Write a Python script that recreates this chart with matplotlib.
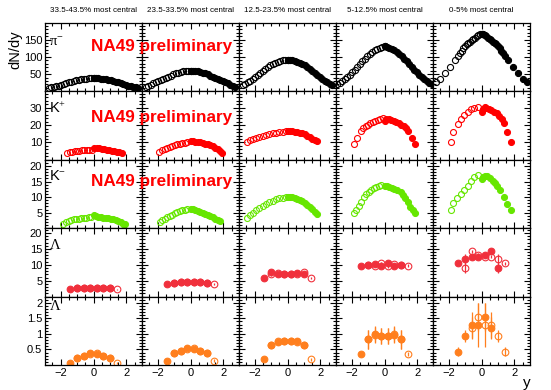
import numpy as np
import matplotlib
matplotlib.use('Agg')
import matplotlib.pyplot as plt
from matplotlib.ticker import MultipleLocator, FuncFormatter

plt.rcParams['font.family'] = ['Liberation Sans', 'DejaVu Sans']
plt.rcParams['mathtext.fontset'] = 'custom'
plt.rcParams['mathtext.rm'] = 'Liberation Serif'
plt.rcParams['mathtext.it'] = 'Liberation Serif'
plt.rcParams['mathtext.sf'] = 'Liberation Sans'

centralities = ['33.5-43.5% most central', '23.5-33.5% most central',
                '12.5-23.5% most central', '5-12.5% most central',
                '0-5% most central']

# pi- : measured (filled) points, open = reflected
r15 = [0.0, 0.15, 0.3, 0.45, 0.6, 0.75, 0.9, 1.05, 1.2, 1.35, 1.5, 1.65, 1.8,
       1.95, 2.1, 2.25, 2.4, 2.55, 2.7]
pim_y = [r15, r15, r15, r15 + [2.85],
         [0.0, 0.1, 0.2, 0.3, 0.4, 0.5, 0.6, 0.7, 0.8, 0.9, 1.0, 1.1, 1.2, 1.3,
          1.4, 1.58, 1.88, 2.19, 2.49, 2.76]]
pim_v = [
    [38, 38, 37.5, 37, 36, 35, 33.5, 32, 30.5, 28.5, 26.5, 24, 21.5, 19, 17, 15, 13, 11.5, 10],
    [60, 60, 59, 58, 56, 54, 52, 49, 46, 43, 40, 36.5, 33, 29.5, 26, 23, 19.5, 16, 13],
    [92, 91.5, 90, 88, 86, 82.5, 79, 75, 70, 65, 60, 54, 48, 42.5, 37, 31.5, 26.5, 22, 18],
    [130, 129, 127, 124, 120, 115, 109, 102, 95, 87, 79, 71, 63, 55.5, 48, 41, 35, 29.5, 25, 21],
    [165, 165, 163, 160, 156, 152, 148, 144, 140, 136, 131, 125, 118, 111, 103, 92, 72, 52, 37, 27],
]

# K+
kp_fy = [[0.05, 0.2, 0.35, 0.5, 0.65, 0.8, 0.95, 1.1, 1.25, 1.4, 1.55, 1.7],
         [0.0, 0.15, 0.3, 0.45, 0.6, 0.75, 0.9, 1.05, 1.2, 1.35, 1.5, 1.65, 1.8, 1.89],
         [0.0, 0.15, 0.3, 0.45, 0.6, 0.75, 0.9, 1.05, 1.2, 1.35, 1.5, 1.65, 1.76],
         [0.0, 0.1, 0.25, 0.4, 0.55, 0.7, 0.85, 1.0, 1.16, 1.3, 1.43, 1.67, 1.82],
         [0.0, 0.1, 0.2, 0.3, 0.47, 0.6, 0.77, 0.92, 1.08, 1.22, 1.38, 1.54, 1.79]]
kp_fv = [[6.9, 6.8, 6.6, 6.4, 6.1, 5.9, 5.6, 5.3, 5.0, 4.7, 4.3, 3.9],
         [11.0, 10.8, 10.5, 10.3, 10.0, 9.7, 9.4, 8.9, 8.4, 7.8, 7.1, 6.2, 5.1, 4.2],
         [16.5, 16.5, 16.4, 16.2, 15.9, 15.6, 15.2, 14.7, 14.0, 13.2, 12.3, 11.3, 10.6],
         [22.5, 23.8, 23.5, 23.0, 22.3, 21.6, 21.0, 20.3, 19.6, 18.5, 16.7, 12.8, 9.2],
         [27.5, 29.5, 30.5, 30.2, 29.2, 28.6, 27.8, 26.8, 25.3, 23.5, 21.0, 16.0, 10.2]]
kp_oy = [[-1.63, -1.45, -1.3, -1.15, -1.0, -0.85, -0.7, -0.55, -0.4, -0.25, -0.1],
         [-1.89, -1.7, -1.55, -1.4, -1.25, -1.1, -0.95, -0.8, -0.65, -0.5, -0.35, -0.2],
         [-2.48, -2.3, -2.1, -1.9, -1.7, -1.5, -1.3, -1.1, -0.9, -0.7, -0.5, -0.3, -0.1],
         [-1.84, -1.65, -1.45, -1.3, -1.15, -1.0, -0.85, -0.7, -0.55, -0.4, -0.25, -0.1],
         [-1.87, -1.71, -1.45, -1.24, -1.04, -0.84, -0.63, -0.43, -0.23]]
kp_ov = [[3.9, 4.3, 4.6, 4.9, 5.1, 5.3, 5.4, 5.5, 5.6, 5.7, 5.8],
         [4.3, 5.5, 6.3, 7.0, 7.6, 8.1, 8.5, 8.9, 9.3, 9.6, 9.9, 10.1],
         [10.5, 11.2, 12.0, 12.6, 13.2, 13.8, 14.4, 14.9, 15.3, 15.7, 16.0, 16.2, 16.4],
         [9.2, 12.5, 16.5, 18.3, 19.5, 20.3, 21.0, 21.7, 22.4, 23.0, 23.6, 24.2],
         [10.2, 16.0, 20.7, 23.5, 25.9, 27.8, 29.2, 29.8, 30.4]]

# K-
km_fy = [[0.05, 0.15, 0.3, 0.45, 0.6, 0.75, 0.9, 1.05, 1.2, 1.35, 1.5, 1.65, 1.8, 1.9],
         [0.0, 0.15, 0.3, 0.45, 0.6, 0.75, 0.9, 1.05, 1.2, 1.35, 1.5, 1.65, 1.8],
         [0.0, 0.15, 0.3, 0.45, 0.6, 0.75, 0.9, 1.05, 1.2, 1.35, 1.5, 1.65, 1.8],
         [0.0, 0.15, 0.3, 0.47, 0.6, 0.75, 0.97, 1.1, 1.27, 1.42, 1.57, 1.7, 1.82],
         [0.0, 0.1, 0.2, 0.35, 0.5, 0.67, 0.8, 0.94, 1.14, 1.38, 1.54, 1.79]]
km_fv = [[4.1, 3.9, 3.7, 3.5, 3.4, 3.3, 3.15, 3.0, 2.8, 2.5, 2.2, 1.9, 1.5, 1.2],
         [6.2, 6.1, 5.9, 5.6, 5.3, 5.0, 4.7, 4.3, 3.9, 3.5, 3.0, 2.6, 2.2],
         [10.0, 10.0, 9.9, 9.7, 9.4, 9.0, 8.6, 8.1, 7.5, 6.8, 6.1, 5.3, 4.5],
         [13.5, 13.6, 13.3, 13.0, 12.6, 12.2, 11.6, 10.8, 9.8, 8.3, 6.8, 5.8, 4.9],
         [15.8, 16.5, 16.9, 16.7, 16.2, 15.3, 14.5, 13.7, 12.3, 10.0, 7.9, 5.7]]
km_oy = [[-1.83, -1.65, -1.5, -1.35, -1.2, -1.05, -0.9, -0.75, -0.6, -0.45, -0.3, -0.15],
         [-1.85, -1.7, -1.55, -1.4, -1.25, -1.1, -0.95, -0.8, -0.65, -0.5, -0.35, -0.2],
         [-2.48, -2.3, -2.1, -1.9, -1.7, -1.5, -1.3, -1.1, -0.9, -0.7, -0.5, -0.3, -0.1],
         [-1.84, -1.7, -1.55, -1.4, -1.25, -1.1, -0.95, -0.8, -0.65, -0.5, -0.35, -0.2],
         [-1.87, -1.71, -1.49, -1.24, -1.04, -0.84, -0.63, -0.43, -0.23]]
km_ov = [[1.3, 1.9, 2.3, 2.6, 2.8, 3.0, 3.1, 3.2, 3.3, 3.4, 3.5, 3.7],
         [2.0, 2.6, 3.1, 3.6, 4.0, 4.4, 4.8, 5.2, 5.5, 5.8, 6.0, 6.2],
         [3.4, 4.2, 5.0, 5.8, 6.5, 7.2, 7.8, 8.4, 8.9, 9.3, 9.6, 9.8, 10.0],
         [5.0, 5.8, 7.0, 8.5, 9.9, 10.9, 11.7, 12.3, 12.8, 13.2, 13.5, 13.8],
         [5.7, 8.1, 9.7, 11.1, 12.3, 13.7, 15.3, 16.4, 17.2]]

# Lambda (filled = measured, open = reflected)
lam_y = [-1.4, -1.0, -0.6, -0.2, 0.2, 0.6, 1.0]
lam_v = [[2.3, 2.6, 2.7, 2.7, 2.7, 2.6, 2.7],
         [4.0, 4.3, 4.6, 4.6, 4.5, 4.6, 4.3],
         [5.8, 7.6, 7.0, 7.2, 7.0, 7.3, 7.0],
         [9.7, 9.9, 10.3, 9.5, 10.5, 9.7, 9.9],
         [10.5, 11.8, 12.6, 12.6, 13.1, 14.2, 9.0]]
lam_e = [[0.2] * 7, [0.2] * 7, [0.4] * 7, [0.4] * 7,
         [0.5, 1.5, 0.6, 0.6, 0.6, 0.6, 1.5]]

# anti-Lambda
alam_y = [lam_y, lam_y, lam_y, lam_y, [-1.4, -1.0, -0.6, -0.2, 0.2, 0.6]]
alam_v = [[0.07, 0.21, 0.30, 0.38, 0.35, 0.30, 0.24],
          [0.14, 0.38, 0.45, 0.56, 0.52, 0.46, 0.38],
          [0.18, 0.64, 0.75, 0.78, 0.78, 0.78, 0.65],
          [0.35, 0.83, 0.99, 0.94, 0.94, 0.97, 0.83],
          [0.43, 0.94, 1.29, 1.29, 1.53, 1.18]]
alam_e = [[0.03] * 7, [0.04] * 7,
          [0.05, 0.1, 0.1, 0.1, 0.1, 0.1, 0.1],
          [0.06, 0.3, 0.25, 0.25, 0.25, 0.25, 0.3],
          [0.15, 0.2, 0.43, 0.7, 0.45, 0.35]]

W, H = 551, 390
fig, axes = plt.subplots(5, 5, figsize=(W / 100, H / 100), dpi=100)
fig.subplots_adjust(left=45 / W, right=530 / W, top=1 - 23 / H, bottom=1 - 365 / H,
                    wspace=0, hspace=0)

rows = [
    dict(lab=r'$\pi^{-}$', c='black', ylim=198, maj=50, mn=10, ms=4.4, ly=0.67),
    dict(lab=r'K$^{+}$', c='#ff0000', ylim=39.5, maj=10, mn=2, ms=4.3, ly=0.68),
    dict(lab=r'K$^{-}$', c='#66e600', ylim=22, maj=5, mn=1, ms=4.3, ly=0.70),
    dict(lab=r'$\Lambda$', c='#f0303c', ylim=21.5, maj=5, mn=1, ms=4.8, ly=0.70),
    dict(lab=r'$\overline{\Lambda}$', c='#ff7f1e', ylim=2.2, maj=0.5, mn=0.1, ms=4.8, ly=0.78),
]

def fmt(v, pos):
    if abs(v) < 1e-9:
        return ''
    return '%g' % v

for i, row in enumerate(rows):
    c = row['c']
    for j in range(5):
        ax = axes[i, j]
        kw = dict(ls='none', marker='o', ms=row['ms'], mew=0.8, color=c, mec=c)
        if i == 0:
            fy = np.array(pim_y[j]); fv = np.array(pim_v[j])
            ax.plot(-fy, fv, mfc='none', **kw)
            ax.plot(fy, fv, **kw)
        elif i in (1, 2):
            fy, fv, oy, ov = ((kp_fy, kp_fv, kp_oy, kp_ov) if i == 1
                              else (km_fy, km_fv, km_oy, km_ov))
            ax.plot(oy[j], ov[j], mfc='none', **kw)
            ax.plot(fy[j], fv[j], **kw)
        else:
            if i == 3:
                yy = np.array(lam_y); vv = lam_v[j]; ee = lam_e[j]
            else:
                yy = np.array(alam_y[j]); vv = alam_v[j]; ee = alam_e[j]
            ax.errorbar(-yy, vv, yerr=ee, mfc='none', elinewidth=0.9, capsize=0, **kw)
            ax.errorbar(yy, vv, yerr=ee, elinewidth=0.9, capsize=0, **kw)

        ax.set_xlim(-2.94, 2.94)
        ax.set_ylim(0, row['ylim'])
        ax.xaxis.set_major_locator(MultipleLocator(2))
        ax.xaxis.set_minor_locator(MultipleLocator(0.5))
        ax.yaxis.set_major_locator(MultipleLocator(row['maj']))
        ax.yaxis.set_minor_locator(MultipleLocator(row['mn']))
        ax.yaxis.set_major_formatter(FuncFormatter(fmt))
        ax.tick_params(which='both', direction='in', top=True, right=True,
                       labelsize=8, width=0.8, pad=2)
        ax.tick_params(which='major', length=4)
        ax.tick_params(which='minor', length=2)
        for s in ax.spines.values():
            s.set_linewidth(0.9)
        if j > 0:
            ax.tick_params(labelleft=False)
        if i < 4:
            ax.tick_params(labelbottom=False)
        if j == 0:
            ax.text(0.04, row['ly'], row['lab'], transform=ax.transAxes, fontsize=10.5,
                    va='baseline', ha='left')

for j, t in enumerate(centralities):
    x0 = (45 + 97 * j + 48.5) / W
    fig.text(x0, 1 - 10 / H, t, fontsize=5.8, ha='center', va='center')

for yb in (51, 122, 186):
    fig.text(90.7 / W, 1 - yb / H, 'NA49 preliminary', color='#ff0000', fontsize=12.3,
             fontweight='bold', ha='left', va='baseline', zorder=10)

fig.text(15.5 / W, 1 - 50 / H, 'dN/dy', rotation=90, fontsize=10.5, ha='center', va='center')
fig.text(527 / W, 1 - 383 / H, 'y', fontsize=11, ha='center', va='center')

fig.savefig('out.png', dpi=100)
